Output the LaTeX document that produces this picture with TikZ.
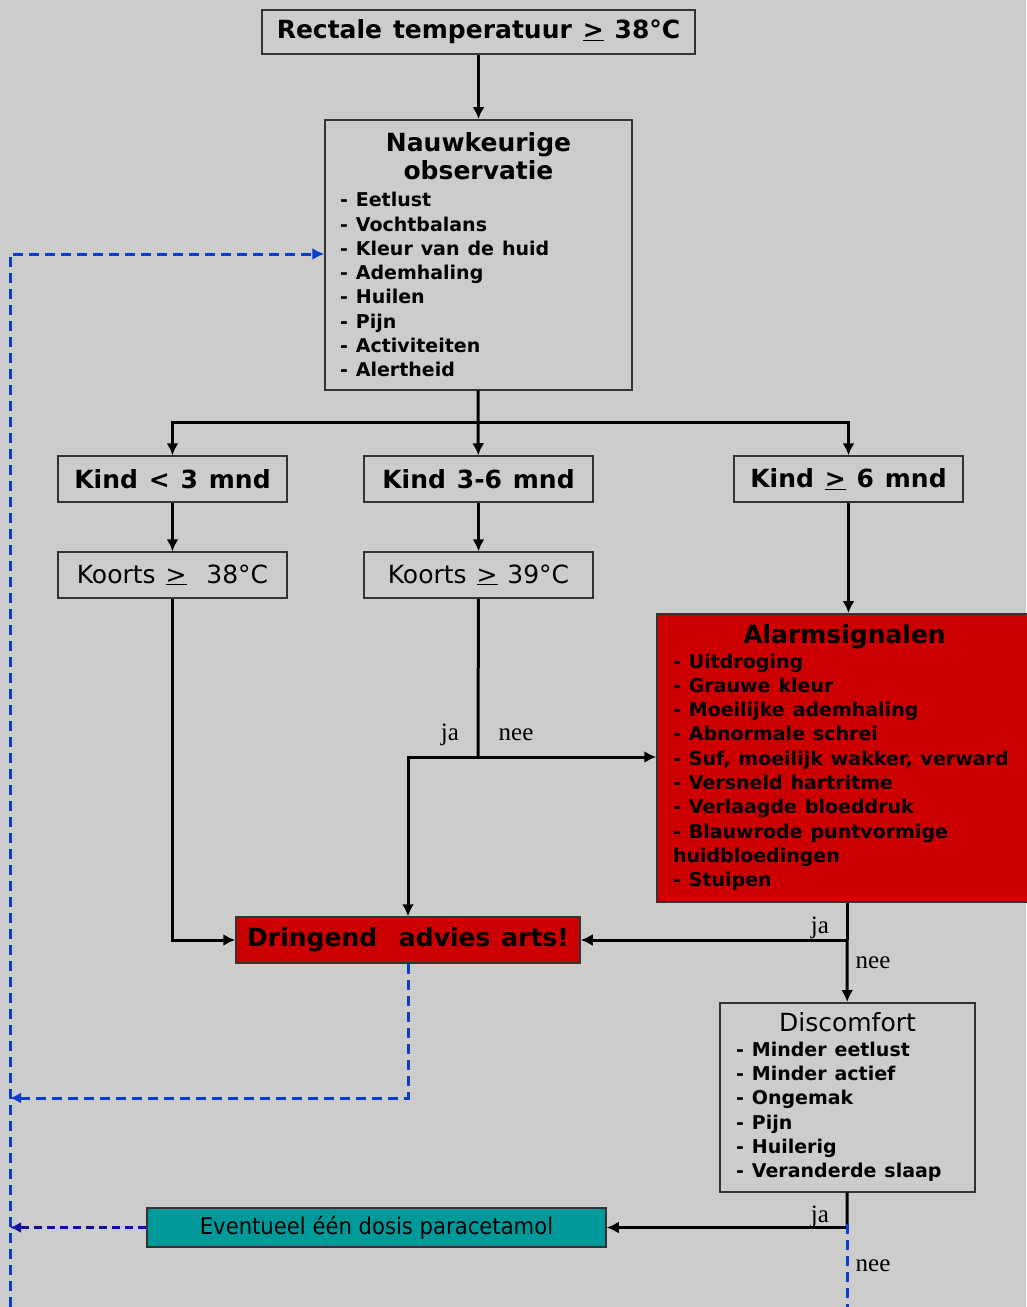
\documentclass[tikz,border=0pt]{standalone}
\usepackage{fontspec}
\setmainfont{DejaVu Sans}[WordSpace=1.25]
\newfontfamily\jafont{Liberation Serif}
\newfontfamily\narrowfont[FakeStretch=0.92]{DejaVu Sans}
\usetikzlibrary{arrows.meta}

\definecolor{bggray}{HTML}{CCCCCC}
\definecolor{alarmred}{HTML}{CC0000}
\definecolor{tealbox}{HTML}{009999}
\definecolor{dashblue}{HTML}{0A3CD0}
\definecolor{navyblue}{HTML}{10109E}

\setlength{\parindent}{0pt}
\newcommand{\grt}{\underline{>}}
\newcommand{\boxfont}{\fontsize{25}{28}\selectfont}
\newcommand{\titlefont}{\fontsize{25}{28}\selectfont\bfseries}
\newcommand{\listfont}{\fontsize{19}{24.3}\selectfont\bfseries\spaceskip=0.42em plus 0.1em\relax}

\begin{document}
\begin{tikzpicture}[x=1pt,y=-1pt,
    box/.style={draw=black!80, line width=1.5pt, minimum height=46pt,
        inner sep=0pt, align=center, font=\boxfont},
    listbox/.style={draw=black!80, line width=1.5pt, inner xsep=15pt,
        inner ysep=4pt, anchor=north},
    line/.style={line width=3pt},
    flow/.style={line, -{Latex[length=12pt,width=12pt]}},
    back/.style={dashblue, line width=3pt, dash pattern=on 10pt off 6pt},
    jalabel/.style={font=\jafont\fontsize{25}{25}\selectfont, inner sep=0pt}]

    % Background and page size
    \fill[bggray] (0,0) rectangle (1026,1307);
    \useasboundingbox (0,0) rectangle (1026,1307);

    % Start and observation
    \node[box, minimum width=433pt, minimum height=44pt, font=\boxfont\bfseries] (temp) at (478.5,32) {Rectale temperatuur \grt\ 38°C};
    \node[listbox, minimum height=270pt, text width=277pt] (obs) at (478.5,119)
        {{\centering\titlefont Nauwkeurige\\observatie\par}\vspace{3pt}
         {\raggedright\listfont - Eetlust\\- Vochtbalans\\- Kleur van de huid\\- Ademhaling\\- Huilen\\- Pijn\\- Activiteiten\\- Alertheid\par}};

    % Age groups
    \node[box, minimum width=229pt, font=\boxfont\bfseries] (kind1) at (172.5,479) {Kind < 3 mnd};
    \node[box, minimum width=229pt, font=\boxfont\bfseries] (kind2) at (478.5,479) {Kind 3-6 mnd};
    \node[box, minimum width=229pt, font=\boxfont\bfseries] (kind3) at (848.5,479) {Kind \grt\ 6 mnd};

    % Fever limits
    \node[box, minimum width=229pt] (koorts1) at (172.5,575) {Koorts \grt\ \ 38°C};
    \node[box, minimum width=229pt] (koorts2) at (478.5,575) {Koorts \grt\ 39°C};

    % Alarm signals
    \node[listbox, fill=alarmred, minimum height=288pt, text width=343pt, inner xsep=16pt] (alarm) at (844.5,613)
        {{\centering\titlefont Alarmsignalen\par}
         {\raggedright\listfont - Uitdroging\\- Grauwe kleur\\- Moeilijke ademhaling\\- Abnormale schrei\\- Suf, moeilijk wakker, verward\\- Versneld hartritme\\- Verlaagde bloeddruk\\- Blauwrode puntvormige\\huidbloedingen\\- Stuipen\par}};

    % Urgent advice
    \node[box, fill=alarmred, minimum width=344pt, font=\boxfont\bfseries] (arts) at (408,940) {Dringend\ \ advies arts!};

    % Discomfort
    \node[listbox, minimum height=189pt, text width=223pt, inner xsep=16pt] (disc) at (847.5,1002)
        {{\centering\fontsize{25}{28}\selectfont Discomfort\par}
         {\raggedright\listfont - Minder eetlust\\- Minder actief\\- Ongemak\\- Pijn\\- Huilerig\\- Veranderde slaap\par}};

    % Paracetamol
    \node[box, fill=tealbox, minimum width=459pt, minimum height=39pt, font=\narrowfont\fontsize{23}{25}\selectfont] (para) at (376.5,1227.5) {Eventueel één dosis paracetamol};

    % Junctions
    \coordinate (split) at (478,422);
    \coordinate (jn) at (478,757);
    \coordinate (aj) at (847,940);
    \coordinate (dj) at (847,1227.5);
    \coordinate (dn) at (847,1307);
    \coordinate (lt) at (10,254);
    \coordinate (lb) at (10,1307);
    \coordinate (lm) at (10,1098);
    \coordinate (lp) at (10,1227.5);

    % Solid connectors
    \draw[flow] (temp) -- (obs);
    \draw[line] (obs) -- (split);
    \draw[flow] (split) -| (kind1);
    \draw[flow] (split) -- (kind2);
    \draw[flow] (split) -| (kind3);
    \draw[flow] (kind1) -- (koorts1);
    \draw[flow] (kind2) -- (koorts2);
    \draw[flow] (kind3.south) -- (kind3.south |- alarm.north);
    \draw[flow] (koorts1) |- (arts);
    \draw[line] (koorts2) -- (jn);
    \draw[flow] (jn) -- (alarm.west |- jn);
    \draw[flow] (jn) -| (arts);
    \draw[line] (alarm.south -| aj) -- (aj);
    \draw[flow] (aj) -- (arts);
    \draw[flow] (aj) -- (disc);
    \draw[line] (disc) -- (dj);
    \draw[flow] (dj) -- (para);

    % Labels
    \node[jalabel] (ja1) at (450,735) {ja};
    \node[jalabel] (nee1) at (516,735) {nee};
    \node[jalabel] (ja2) at (820,928) {ja};
    \node[jalabel] (nee2) at (873,963) {nee};
    \node[jalabel] (ja3) at (820,1217) {ja};
    \node[jalabel] (nee3) at (873,1266) {nee};

    % Dashed return lines
    \draw[back, -{Latex[length=12pt,width=12pt]}] (lb) -- (lt) -- (obs.west |- lt);
    \draw[back, -{Latex[length=11pt,width=11pt]}] (arts) |- (lm);
    \draw[back] ([yshift=4pt]dj) -- (dn);
    \draw[back, navyblue, dash pattern=on 8pt off 5pt, -{Latex[length=11pt,width=11pt]}] (para) -- (lp);

\end{tikzpicture}
\end{document}
